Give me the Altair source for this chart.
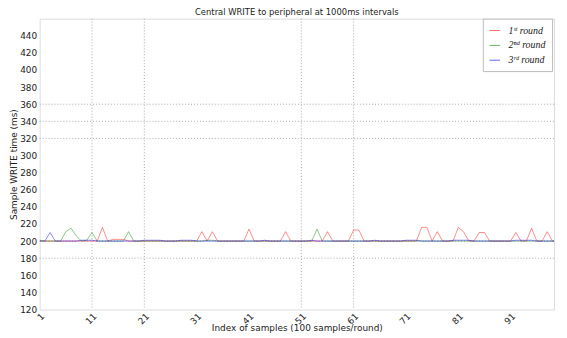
import altair as alt
import pandas as pd

# ---- data ----
series_names = ["1ˢᵗ round", "2ⁿᵈ round", "3ʳᵈ round"]
series_colors = ["#ff0000", "#008000", "#0000ff"]

red = [200, 200, 200, 200, 200, 200, 200, 200, 200, 200,
       200, 200, 216, 200, 202, 202, 202, 200, 200, 200,
       200, 200, 200, 200, 200, 200, 200, 200, 200, 200,
       200, 211, 200, 211, 200, 200, 200, 200, 200, 200,
       214, 200, 200, 200, 200, 200, 200, 211, 200, 200,
       200, 200, 200, 200, 200, 211, 200, 200, 200, 200,
       213, 213, 200, 200, 200, 200, 200, 200, 200, 200,
       200, 200, 200, 216, 216, 200, 211, 200, 200, 200,
       216, 211, 200, 200, 210, 210, 200, 200, 200, 200,
       200, 210, 200, 200, 215, 200, 200, 211, 200, 200]

green = [201, 200, 200, 200, 200, 211, 215, 206, 200, 201,
         210, 200, 200, 200, 200, 200, 200, 211, 200, 200,
         200, 200, 200, 200, 200, 200, 200, 200, 200, 200,
         200, 200, 201, 201, 200, 200, 200, 200, 200, 200,
         200, 200, 200, 200, 200, 200, 200, 200, 200, 200,
         200, 200, 200, 214, 200, 200, 200, 200, 200, 200,
         200, 200, 200, 200, 200, 200, 200, 200, 200, 200,
         200, 200, 200, 200, 200, 200, 200, 200, 200, 200,
         200, 200, 200, 200, 200, 200, 200, 200, 200, 200,
         200, 200, 200, 200, 200, 200, 200, 200, 200, 200]

blue = [200, 200, 210, 200, 200, 200, 200, 200, 201, 201,
        201, 200, 200, 200, 200, 200, 200, 200, 200, 200,
        201, 201, 201, 201, 200, 200, 200, 201, 201, 201,
        200, 200, 200, 200, 200, 200, 200, 200, 200, 200,
        200, 200, 200, 201, 200, 200, 200, 200, 200, 200,
        200, 200, 201, 200, 200, 200, 200, 200, 200, 200,
        200, 200, 200, 200, 201, 200, 200, 200, 200, 200,
        201, 201, 201, 200, 200, 200, 200, 200, 200, 201,
        201, 201, 201, 200, 200, 200, 200, 200, 200, 200,
        200, 201, 201, 201, 201, 200, 200, 200, 200, 200]

x_ticks = [1, 11, 21, 31, 41, 51, 61, 71, 81, 91]
y_ticks = [120, 140, 160, 180, 200, 220, 240, 260, 280, 300,
           320, 340, 360, 380, 400, 420, 440]
grid_x = [11, 21, 51, 61]
grid_y = [180, 200, 320, 340, 360]

rows = []
for name, vals in zip(series_names, [red, green, blue]):
    for i, v in enumerate(vals):
        rows.append({"idx": i + 1, "value": v, "series": name})
df = pd.DataFrame(rows)

FONT = "DejaVu Sans"
x_scale = alt.Scale(domain=[1, 99.3], nice=False, zero=False)
y_scale = alt.Scale(domain=[120, 460], nice=False, zero=False)

x_axis = alt.Axis(values=x_ticks, title="Index of samples (100 samples/round)",
                  grid=False, ticks=False, domain=False, labelOverlap=False,
                  labelAngle=315, labelAlign="right", labelBaseline="top",
                  labelPadding=2, labelFontSize=9, labelFont=FONT,
                  labelColor="#222", titleFont=FONT, titleFontSize=9,
                  titleFontWeight="normal", titleColor="#222",
                  titleY=18, titleBaseline="middle")
y_axis = alt.Axis(values=y_ticks, title="Sample WRITE time (ms)",
                  grid=False, ticks=False, domain=False, labelOverlap=False,
                  labelPadding=3, labelFontSize=9, labelFont=FONT,
                  labelColor="#222", titleFont=FONT, titleFontSize=9,
                  titleFontWeight="normal", titleColor="#222",
                  titlePadding=1)

lines = alt.Chart(df).mark_line(strokeWidth=1, opacity=0.45, clip=True).encode(
    x=alt.X("idx:Q", scale=x_scale, axis=x_axis),
    y=alt.Y("value:Q", scale=y_scale, axis=y_axis),
    color=alt.Color("series:N",
                    scale=alt.Scale(domain=series_names, range=series_colors),
                    sort=series_names,
                    legend=alt.Legend(title=None, orient="none", legendX=448, legendY=0,
                                      symbolType="stroke", symbolStrokeWidth=1,
                                      symbolSize=110, symbolOpacity=0.6,
                                      labelFont="Liberation Serif", labelFontStyle="italic",
                                      labelFontSize=10, labelColor="#222",
                                      strokeColor="#bbb", fillColor="white",
                                      padding=6, rowPadding=4, labelOffset=8,
                                      labelLimit=80)),
    order=alt.Order("idx:Q"),
)

vgrid = alt.Chart(pd.DataFrame({"gx": grid_x})).mark_rule(
    color="#aaa", strokeDash=[1, 2], strokeWidth=1).encode(
    x=alt.X("gx:Q", scale=x_scale, axis=x_axis))
hgrid = alt.Chart(pd.DataFrame({"gy": grid_y})).mark_rule(
    color="#aaa", strokeDash=[1, 2], strokeWidth=1).encode(
    y=alt.Y("gy:Q", scale=y_scale, axis=y_axis))

chart = alt.layer(vgrid, hgrid, lines).properties(
    width=520, height=294,
    title=alt.TitleParams("Central WRITE to peripheral at 1000ms intervals",
                          font=FONT, fontSize=8.5, fontWeight="normal",
                          color="#222", offset=2),
    autosize=alt.AutoSizeParams(type="none"),
    padding={"left": 32, "top": 9, "right": 5, "bottom": 26},
).configure_view(stroke="#999", strokeWidth=1).configure_axis(
    labelOverlap=False).configure(background="white")

chart.save("out.html", embed_options={"renderer": "svg", "actions": False})
